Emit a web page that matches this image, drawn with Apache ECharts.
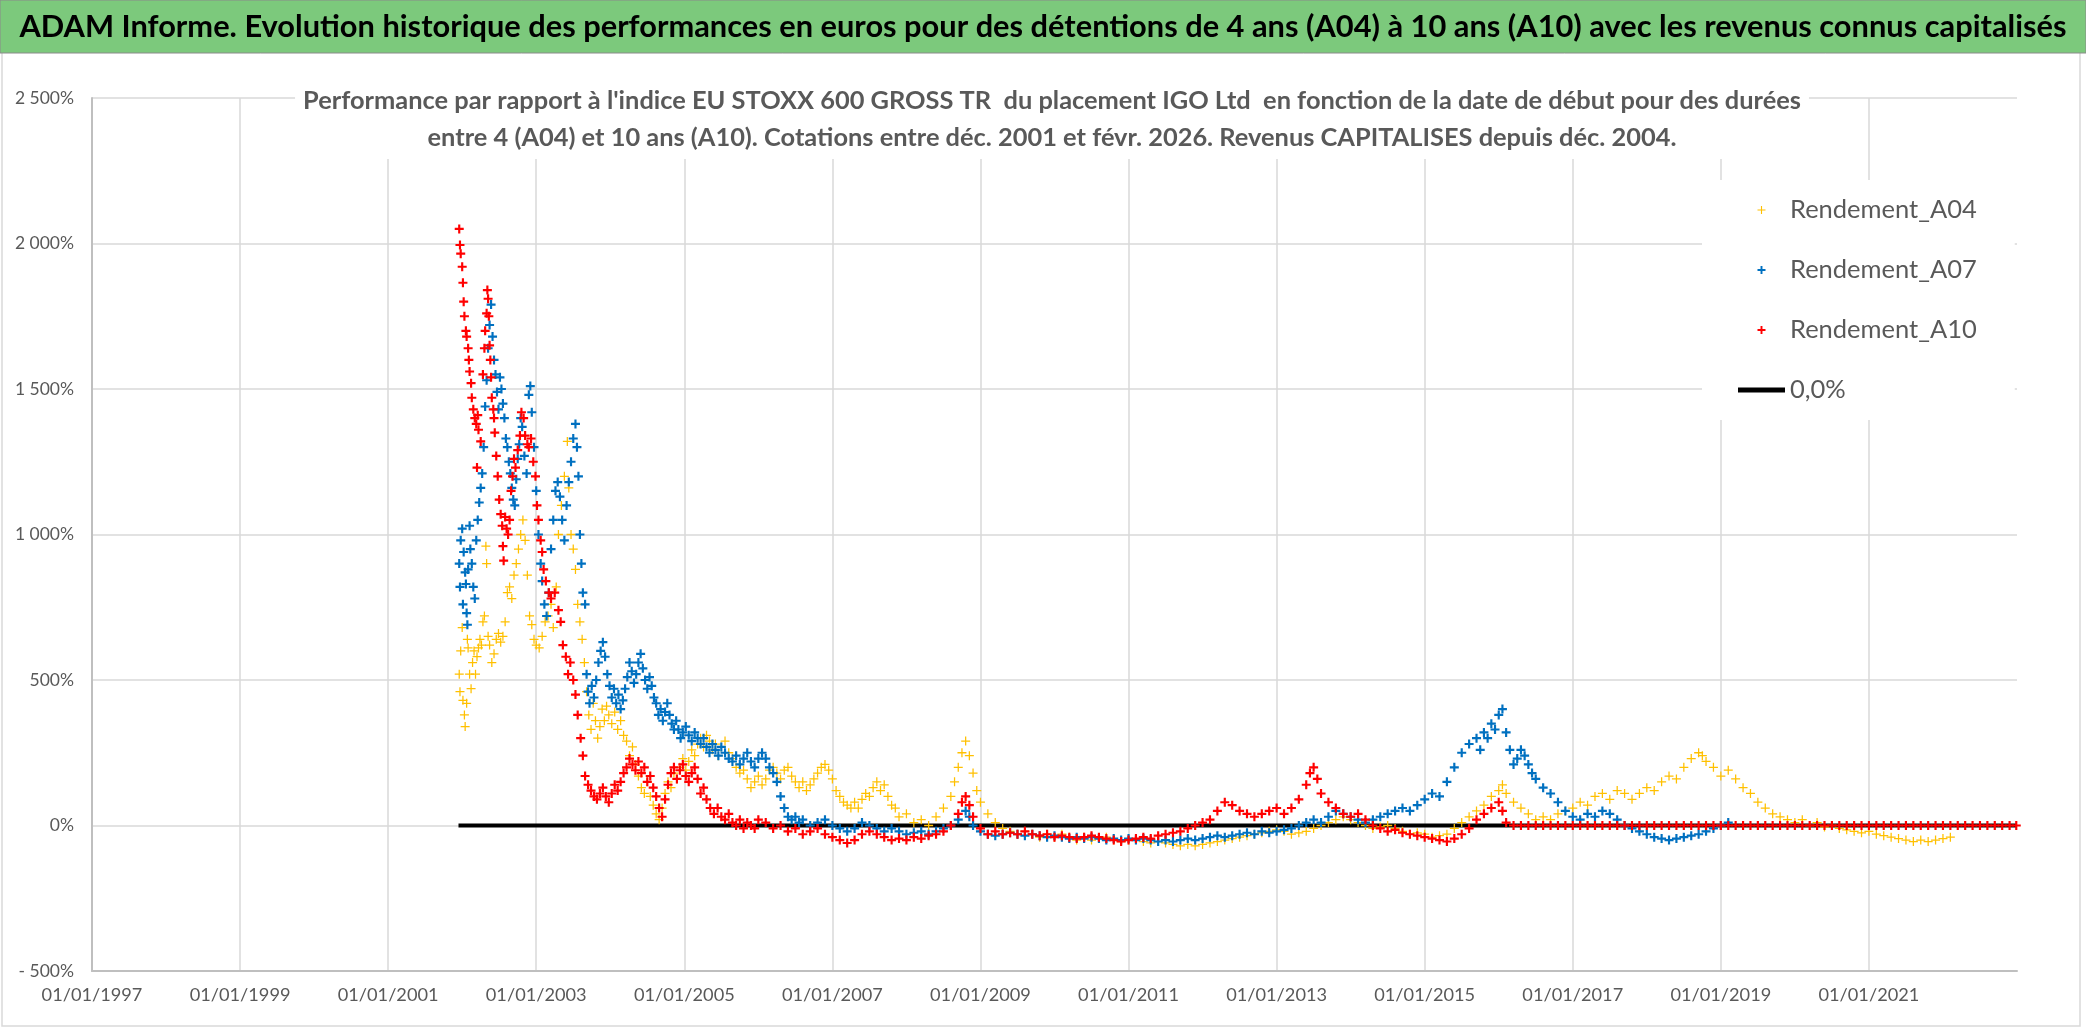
<!DOCTYPE html>
<html><head><meta charset="utf-8">
<script src="https://cdn.jsdelivr.net/npm/echarts@6/dist/echarts.min.js"></script>
<style>html,body{margin:0;padding:0;background:#fff;overflow:hidden}#c{width:2086px;height:1031px}</style>
</head><body><div id="c"></div>
<script>
// ---- DATA (x = date as decimal year, y = performance in %) ----
const A04 = [
[2001.96,520],[2001.97,460],[2001.98,600],[2002.00,680],[2002.01,430],[2002.03,380],[2002.04,340],[2002.06,420],[2002.07,640],[2002.08,610],
[2002.10,520],[2002.12,470],[2002.14,560],[2002.16,600],[2002.18,520],[2002.20,580],[2002.22,610],[2002.24,640],[2002.26,620],[2002.28,700],
[2002.30,720],[2002.32,960],[2002.33,900],[2002.35,650],[2002.37,620],[2002.40,560],[2002.43,590],[2002.46,640],[2002.49,660],[2002.52,630],
[2002.55,650],[2002.58,700],[2002.61,800],[2002.64,820],[2002.67,780],[2002.70,860],[2002.73,900],[2002.76,950],[2002.79,1000],[2002.82,1050],
[2002.85,980],[2002.88,860],[2002.91,720],[2002.94,690],[2002.97,640],[2003.00,620],[2003.04,610],[2003.08,650],[2003.12,700],[2003.16,720],
[2003.20,760],[2003.23,680],[2003.27,820],[2003.30,1000],[2003.34,1100],[2003.38,1200],[2003.42,1320],[2003.44,1160],[2003.47,1000],[2003.50,950],
[2003.53,880],[2003.56,760],[2003.59,700],[2003.62,640],[2003.65,560],[2003.68,460],[2003.71,380],[2003.74,330],[2003.77,420],[2003.80,360],
[2003.83,300],[2003.86,340],[2003.89,400],[2003.92,360],[2003.95,410],[2003.98,380],[2004.02,350],[2004.06,390],[2004.10,330],[2004.14,360],
[2004.18,310],[2004.22,290],[2004.26,240],[2004.30,270],[2004.34,210],[2004.38,170],[2004.42,130],[2004.46,110],[2004.50,150],[2004.54,100],
[2004.58,70],[2004.62,40],[2004.66,20],[2004.70,60],[2004.74,110],[2004.78,150],[2004.82,130],[2004.86,180],[2004.90,160],[2004.94,200],
[2004.98,230],[2005.02,190],[2005.06,220],[2005.10,260],[2005.14,240],[2005.18,280],[2005.22,300],[2005.26,270],[2005.30,310],[2005.34,290],
[2005.38,260],[2005.42,280],[2005.46,240],[2005.50,270],[2005.55,290],[2005.60,250],[2005.65,230],[2005.70,200],[2005.75,180],[2005.80,190],
[2005.85,160],[2005.90,130],[2005.95,150],[2006.00,170],[2006.05,140],[2006.10,160],[2006.15,190],[2006.20,200],[2006.25,180],[2006.30,160],
[2006.35,190],[2006.40,200],[2006.45,170],[2006.50,150],[2006.55,130],[2006.60,150],[2006.65,120],[2006.70,140],[2006.75,160],[2006.80,180],
[2006.85,200],[2006.90,210],[2006.95,190],[2007.00,160],[2007.05,120],[2007.10,100],[2007.15,80],[2007.20,70],[2007.25,60],[2007.30,80],
[2007.35,60],[2007.40,90],[2007.45,110],[2007.50,100],[2007.55,130],[2007.60,150],[2007.65,120],[2007.70,140],[2007.75,100],[2007.80,70],
[2007.85,60],[2007.90,30],[2008.00,40],[2008.10,10],[2008.20,20],[2008.30,0],[2008.40,30],[2008.50,60],[2008.60,100],[2008.65,150],
[2008.70,200],[2008.75,250],[2008.80,290],[2008.85,240],[2008.90,180],[2008.95,120],[2009.00,80],[2009.10,40],[2009.20,10],[2009.30,-10],
[2009.40,-20],[2009.50,-30],[2009.60,-20],[2009.70,-30],[2009.80,-40],[2009.90,-30],[2010.00,-40],[2010.10,-30],[2010.20,-40],[2010.30,-50],
[2010.40,-40],[2010.50,-50],[2010.60,-45],[2010.70,-40],[2010.80,-50],[2010.90,-55],[2011.00,-50],[2011.10,-45],[2011.20,-55],[2011.30,-60],
[2011.40,-55],[2011.50,-60],[2011.60,-65],[2011.70,-70],[2011.80,-65],[2011.90,-70],[2012.00,-65],[2012.10,-60],[2012.20,-55],[2012.30,-50],
[2012.40,-45],[2012.50,-40],[2012.60,-35],[2012.70,-30],[2012.80,-25],[2012.90,-20],[2013.00,-15],[2013.10,-20],[2013.20,-30],[2013.30,-25],
[2013.40,-20],[2013.50,-10],[2013.60,0],[2013.70,10],[2013.80,20],[2013.90,30],[2014.00,20],[2014.10,10],[2014.20,0],[2014.30,-10],
[2014.40,-5],[2014.50,0],[2014.60,-10],[2014.70,-20],[2014.80,-30],[2014.90,-25],[2015.00,-30],[2015.10,-40],[2015.20,-35],[2015.30,-30],
[2015.40,-10],[2015.50,10],[2015.60,30],[2015.70,50],[2015.80,70],[2015.90,100],[2016.00,120],[2016.05,140],[2016.10,110],[2016.20,80],
[2016.30,60],[2016.40,40],[2016.50,20],[2016.60,30],[2016.70,20],[2016.80,40],[2016.90,50],[2017.00,60],[2017.10,80],[2017.20,70],
[2017.30,100],[2017.40,110],[2017.50,90],[2017.60,120],[2017.70,110],[2017.80,90],[2017.90,110],[2018.00,130],[2018.10,120],[2018.20,150],
[2018.30,170],[2018.40,160],[2018.50,200],[2018.60,230],[2018.70,250],[2018.75,240],[2018.80,220],[2018.90,200],[2019.00,170],[2019.10,190],
[2019.20,160],[2019.30,130],[2019.40,110],[2019.50,80],[2019.60,60],[2019.70,40],[2019.80,30],[2019.90,20],[2020.00,10],[2020.10,20],
[2020.20,0],[2020.30,10],[2020.40,-5],[2020.50,0],[2020.60,-10],[2020.70,-15],[2020.80,-20],[2020.90,-25],[2021.00,-20],[2021.10,-30],
[2021.20,-35],[2021.30,-40],[2021.40,-45],[2021.50,-50],[2021.60,-55],[2021.70,-50],[2021.80,-55],[2021.90,-50],[2022.00,-45],[2022.10,-40]
];
const A07 = [
[2001.96,900],[2001.97,820],[2001.98,980],[2002.00,1020],[2002.01,760],[2002.02,940],[2002.04,870],[2002.05,830],[2002.06,730],[2002.07,690],
[2002.08,880],[2002.10,1030],[2002.11,950],[2002.13,900],[2002.15,820],[2002.17,780],[2002.19,980],[2002.21,1050],[2002.23,1110],[2002.25,1160],
[2002.27,1210],[2002.29,1300],[2002.31,1440],[2002.33,1530],[2002.35,1640],[2002.37,1720],[2002.39,1790],[2002.41,1680],[2002.43,1600],[2002.45,1550],
[2002.47,1490],[2002.49,1430],[2002.51,1540],[2002.53,1500],[2002.55,1450],[2002.57,1400],[2002.59,1330],[2002.61,1300],[2002.63,1250],[2002.65,1210],
[2002.67,1160],[2002.69,1120],[2002.71,1100],[2002.73,1190],[2002.75,1260],[2002.77,1310],[2002.79,1400],[2002.81,1370],[2002.84,1270],[2002.87,1210],
[2002.90,1480],[2002.92,1510],[2002.94,1420],[2002.97,1300],[2003.00,1150],[2003.03,1000],[2003.06,900],[2003.08,840],[2003.11,760],[2003.14,720],
[2003.17,800],[2003.20,950],[2003.23,1050],[2003.26,1150],[2003.29,1180],[2003.32,1130],[2003.35,1050],[2003.38,980],[2003.41,1100],[2003.44,1180],
[2003.47,1250],[2003.50,1330],[2003.53,1380],[2003.55,1300],[2003.57,1200],[2003.59,1000],[2003.61,900],[2003.63,800],[2003.66,760],[2003.68,520],
[2003.70,460],[2003.72,420],[2003.75,480],[2003.78,440],[2003.81,500],[2003.84,560],[2003.87,600],[2003.90,630],[2003.93,580],[2003.96,520],
[2003.99,480],[2004.02,440],[2004.05,470],[2004.08,420],[2004.11,450],[2004.14,400],[2004.17,430],[2004.20,470],[2004.23,510],[2004.26,560],
[2004.29,530],[2004.32,490],[2004.35,520],[2004.38,560],[2004.41,590],[2004.44,540],[2004.47,500],[2004.50,470],[2004.53,510],[2004.56,480],
[2004.59,440],[2004.62,420],[2004.65,380],[2004.68,400],[2004.71,360],[2004.74,390],[2004.77,420],[2004.80,380],[2004.83,350],[2004.86,330],
[2004.89,360],[2004.92,330],[2004.95,300],[2004.98,320],[2005.02,340],[2005.06,310],[2005.10,290],[2005.14,320],[2005.18,300],[2005.22,280],
[2005.26,300],[2005.30,270],[2005.34,250],[2005.38,280],[2005.42,260],[2005.46,240],[2005.50,270],[2005.55,250],[2005.60,230],[2005.65,220],
[2005.70,240],[2005.75,210],[2005.80,230],[2005.85,250],[2005.90,220],[2005.95,200],[2006.00,230],[2006.05,250],[2006.10,230],[2006.15,200],
[2006.20,180],[2006.25,150],[2006.30,100],[2006.35,60],[2006.40,30],[2006.45,20],[2006.50,30],[2006.55,10],[2006.60,20],[2006.70,0],
[2006.80,10],[2006.90,20],[2007.00,0],[2007.10,-10],[2007.20,-20],[2007.30,-10],[2007.40,10],[2007.50,0],[2007.60,-10],[2007.70,-20],
[2007.80,-10],[2007.90,-20],[2008.00,-30],[2008.10,-25],[2008.20,-20],[2008.30,-30],[2008.40,-20],[2008.50,-10],[2008.60,0],[2008.70,20],
[2008.80,50],[2008.85,30],[2008.90,0],[2009.00,-20],[2009.10,-30],[2009.20,-35],[2009.30,-30],[2009.40,-25],[2009.50,-30],[2009.60,-35],
[2009.70,-30],[2009.80,-35],[2009.90,-40],[2010.00,-35],[2010.10,-40],[2010.20,-45],[2010.30,-40],[2010.40,-45],[2010.50,-40],[2010.60,-45],
[2010.70,-50],[2010.80,-45],[2010.90,-50],[2011.00,-45],[2011.10,-50],[2011.20,-45],[2011.30,-50],[2011.40,-55],[2011.50,-50],[2011.60,-55],
[2011.70,-50],[2011.80,-45],[2011.90,-50],[2012.00,-45],[2012.10,-40],[2012.20,-35],[2012.30,-40],[2012.40,-35],[2012.50,-30],[2012.60,-25],
[2012.70,-30],[2012.80,-20],[2012.90,-25],[2013.00,-20],[2013.10,-15],[2013.20,-10],[2013.30,0],[2013.40,10],[2013.50,20],[2013.60,10],
[2013.70,30],[2013.80,50],[2013.90,40],[2014.00,30],[2014.10,20],[2014.20,10],[2014.30,20],[2014.40,30],[2014.50,40],[2014.60,50],
[2014.70,60],[2014.80,50],[2014.90,70],[2015.00,90],[2015.10,110],[2015.20,100],[2015.30,150],[2015.40,200],[2015.50,250],[2015.60,280],
[2015.70,300],[2015.75,260],[2015.80,320],[2015.85,300],[2015.90,350],[2015.95,330],[2016.00,380],[2016.05,400],[2016.10,320],[2016.15,260],
[2016.20,210],[2016.25,230],[2016.30,260],[2016.35,240],[2016.40,210],[2016.45,180],[2016.50,160],[2016.60,130],[2016.70,110],[2016.80,80],
[2016.90,50],[2017.00,30],[2017.10,20],[2017.20,40],[2017.30,30],[2017.40,50],[2017.50,40],[2017.60,20],[2017.70,0],[2017.80,-10],
[2017.90,-20],[2018.00,-30],[2018.10,-40],[2018.20,-45],[2018.30,-50],[2018.40,-45],[2018.50,-40],[2018.60,-35],[2018.70,-30],[2018.80,-20],
[2018.90,-10],[2019.00,0],[2019.10,10]
];
const A10 = [
[2001.96,2050],[2001.97,1995],[2001.98,1965],[2002.00,1920],[2002.01,1865],[2002.02,1800],[2002.03,1750],[2002.05,1700],[2002.06,1680],[2002.08,1640],
[2002.09,1600],[2002.10,1560],[2002.12,1520],[2002.13,1470],[2002.15,1430],[2002.17,1400],[2002.19,1380],[2002.21,1410],[2002.22,1360],[2002.20,1230],
[2002.25,1320],[2002.28,1550],[2002.30,1640],[2002.31,1700],[2002.33,1760],[2002.34,1840],[2002.35,1810],[2002.36,1750],[2002.37,1650],[2002.38,1600],
[2002.39,1540],[2002.40,1470],[2002.42,1430],[2002.43,1400],[2002.44,1350],[2002.46,1270],[2002.48,1200],[2002.50,1120],[2002.52,1070],[2002.54,1030],
[2002.55,960],[2002.56,910],[2002.58,1060],[2002.60,1020],[2002.62,1000],[2002.64,1050],[2002.66,1150],[2002.68,1200],[2002.70,1260],[2002.72,1230],
[2002.75,1290],[2002.78,1340],[2002.80,1420],[2002.83,1400],[2002.85,1340],[2002.88,1310],[2002.90,1300],[2002.93,1330],[2002.96,1250],[2002.99,1200],
[2003.01,1100],[2003.03,1050],[2003.06,980],[2003.08,940],[2003.10,880],[2003.13,840],[2003.17,800],[2003.20,780],[2003.25,800],[2003.30,740],
[2003.33,700],[2003.36,620],[2003.40,580],[2003.43,520],[2003.46,560],[2003.50,500],[2003.53,450],[2003.56,380],[2003.60,300],[2003.63,240],
[2003.66,170],[2003.70,140],[2003.74,120],[2003.78,100],[2003.82,90],[2003.86,110],[2003.90,130],[2003.94,100],[2003.98,80],[2004.02,110],
[2004.06,140],[2004.10,120],[2004.14,150],[2004.18,180],[2004.22,200],[2004.26,230],[2004.30,210],[2004.34,190],[2004.38,220],[2004.42,180],
[2004.46,200],[2004.50,150],[2004.54,170],[2004.58,130],[2004.62,100],[2004.66,60],[2004.70,30],[2004.74,90],[2004.78,140],[2004.82,180],
[2004.86,200],[2004.90,160],[2004.94,190],[2004.98,210],[2005.02,170],[2005.06,150],[2005.10,180],[2005.14,200],[2005.18,160],[2005.22,110],
[2005.26,130],[2005.30,90],[2005.35,60],[2005.40,40],[2005.45,60],[2005.50,30],[2005.55,20],[2005.60,40],[2005.65,10],[2005.70,0],
[2005.75,20],[2005.80,-10],[2005.85,10],[2005.90,0],[2005.95,-10],[2006.00,20],[2006.10,10],[2006.20,-10],[2006.30,0],[2006.40,-20],
[2006.50,-10],[2006.60,-30],[2006.70,-20],[2006.80,-10],[2006.90,-30],[2007.00,-40],[2007.10,-50],[2007.20,-60],[2007.30,-50],[2007.40,-30],
[2007.50,-20],[2007.60,-30],[2007.70,-40],[2007.80,-50],[2007.90,-45],[2008.00,-50],[2008.10,-40],[2008.20,-45],[2008.30,-35],[2008.40,-30],
[2008.50,-20],[2008.60,0],[2008.70,40],[2008.75,80],[2008.80,100],[2008.85,70],[2008.90,30],[2009.00,-10],[2009.10,-30],[2009.20,-20],
[2009.30,-30],[2009.40,-25],[2009.50,-30],[2009.60,-20],[2009.70,-30],[2009.80,-35],[2009.90,-30],[2010.00,-40],[2010.10,-35],[2010.20,-40],
[2010.30,-45],[2010.40,-40],[2010.50,-35],[2010.60,-40],[2010.70,-45],[2010.80,-50],[2010.90,-55],[2011.00,-50],[2011.10,-45],[2011.20,-40],
[2011.30,-45],[2011.40,-35],[2011.50,-30],[2011.60,-25],[2011.70,-20],[2011.80,-10],[2011.90,0],[2012.00,10],[2012.10,20],[2012.20,50],
[2012.30,80],[2012.40,70],[2012.50,50],[2012.60,40],[2012.70,30],[2012.80,40],[2012.90,50],[2013.00,60],[2013.10,40],[2013.20,60],
[2013.30,90],[2013.40,140],[2013.45,180],[2013.50,200],[2013.55,160],[2013.60,110],[2013.70,80],[2013.80,60],[2013.90,40],[2014.00,30],
[2014.10,40],[2014.20,20],[2014.30,0],[2014.40,-10],[2014.50,-20],[2014.60,-15],[2014.70,-25],[2014.80,-30],[2014.90,-35],[2015.00,-40],
[2015.10,-45],[2015.20,-50],[2015.30,-55],[2015.40,-45],[2015.50,-30],[2015.60,-10],[2015.70,20],[2015.80,40],[2015.90,60],[2016.00,80],
[2016.05,50],[2016.10,10],[2016.20,0],[2016.30,0],[2016.40,0],[2016.50,0],[2016.60,0],[2016.70,0],[2016.80,0],[2016.90,0],
[2017.00,0],[2017.10,0],[2017.20,0],[2017.30,0],[2017.40,0],[2017.50,0],[2017.60,0],[2017.70,0],[2017.80,0],[2017.90,0],
[2018.00,0],[2018.10,0],[2018.20,0],[2018.30,0],[2018.40,0],[2018.50,0],[2018.60,0],[2018.70,0],[2018.80,0],[2018.90,0],
[2019.00,0],[2019.10,0],[2019.20,0],[2019.30,0],[2019.40,0],[2019.50,0],[2019.60,0],[2019.70,0],[2019.80,0],[2019.90,0],
[2020.00,0],[2020.10,0],[2020.20,0],[2020.30,0],[2020.40,0],[2020.50,0],[2020.60,0],[2020.70,0],[2020.80,0],[2020.90,0],
[2021.00,0],[2021.10,0],[2021.20,0],[2021.30,0],[2021.40,0],[2021.50,0],[2021.60,0],[2021.70,0],[2021.80,0],[2021.90,0],
[2022.00,0],[2022.10,0],[2022.20,0],[2022.30,0],[2022.40,0],[2022.50,0],[2022.60,0],[2022.70,0],[2022.80,0],[2022.90,0],[2022.99,0]
];
const ZERO_LINE = [[2001.95,0],[2023.0,0]];
const SERIES_NAMES = ['Rendement_A04','Rendement_A07','Rendement_A10','0,0%'];
const TITLE = "ADAM Informe. Evolution historique des performances en euros pour des détentions de 4 ans (A04) à 10 ans (A10) avec les revenus connus capitalisés";
const SUBTITLE = ["Performance par rapport à l'indice EU STOXX 600 GROSS TR  du placement IGO Ltd  en fonction de la date de début pour des durées",
                  "entre 4 (A04) et 10 ans (A10). Cotations entre déc. 2001 et févr. 2026. Revenus CAPITALISES depuis déc. 2004."];

// ---- CHART ----
const FONT = 'Lato, "Liberation Sans", sans-serif';
const mctx = document.createElement('canvas').getContext('2d');
function fitSize(text, weight, target){
  mctx.font = weight + ' 100px ' + FONT;
  return Math.round(1000 * target / mctx.measureText(text).width) / 10;
}
const FS_TITLE = fitSize(TITLE, 'bold', 2050);
const FS_SUB = fitSize(SUBTITLE[0], 'bold', 1497);
const FS_LEG = fitSize('Rendement_A04', 'normal', 187);
const FS_X = fitSize('01/01/1997', 'normal', 101);
const FS_Y = fitSize('2 500%', 'normal', 59);

const PLUS = 'path://M3.8,0H6.2V3.8H10V6.2H6.2V10H3.8V6.2H0V3.8H3.8Z';
const PLUS_THIN = 'path://M4.3,0H5.7V4.3H10V5.7H5.7V10H4.3V5.7H0V4.3H4.3Z';
const LINE_ICON = 'path://M0,0H47V5H0Z';
const chart = echarts.init(document.getElementById('c'), null, {renderer:'canvas'});
function yFmt(v){
  if (v === 0) return '0%';
  const a = Math.abs(v);
  const s = a >= 1000 ? Math.floor(a/1000) + ' ' + String(a%1000).padStart(3,'0') : String(a);
  return (v < 0 ? '- ' : '') + s + '%';
}
chart.setOption({
  animation:false,
  backgroundColor:'#ffffff',
  grid:{left:92, right:69, top:98, bottom:60, containLabel:false},
  xAxis:{
    type:'value', min:1997, max:2023, interval:2,
    axisLine:{show:true, onZero:false, lineStyle:{color:'#bfbfbf', width:2}},
    axisTick:{show:false},
    splitLine:{show:true, showMaxLine:false, lineStyle:{color:'#d9d9d9', width:1.5}},
    axisLabel:{color:'#595959', fontFamily:FONT, fontSize:FS_X, margin:15,
      formatter:v => v >= 2023 ? '' : '01/01/' + v}
  },
  yAxis:{
    type:'value', min:-500, max:2500, interval:500,
    axisLine:{show:true, lineStyle:{color:'#bfbfbf', width:2}},
    axisTick:{show:false},
    splitLine:{show:true, lineStyle:{color:'#d9d9d9', width:1.5}},
    axisLabel:{color:'#595959', fontFamily:FONT, fontSize:FS_Y, margin:18, formatter:yFmt}
  },
  legend:{
    orient:'vertical', left:1702, top:180,
    backgroundColor:'#ffffff', padding:[15,38,15,36],
    itemWidth:47, itemHeight:8, itemGap:30,
    textStyle:{color:'#595959', fontFamily:FONT, fontSize:FS_LEG, lineHeight:30},
    data:[
      {name:SERIES_NAMES[0], icon:PLUS_THIN},
      {name:SERIES_NAMES[1], icon:PLUS},
      {name:SERIES_NAMES[2], icon:PLUS},
      {name:SERIES_NAMES[3], icon:LINE_ICON}
    ]
  },
  graphic:[
    {type:'rect', z:-10, shape:{x:2, y:2, width:2078, height:1024}, style:{fill:'#ffffff', stroke:'#d9d9d9', lineWidth:1.5}, silent:true},
    {type:'rect', z:1, shape:{x:0, y:0, width:2086, height:53}, style:{fill:'#7cc97c', stroke:'#8a8a8a', lineWidth:1}, silent:true},
    {type:'text', z:2, x:1043, y:27, style:{text:TITLE, fill:'#000000', fontFamily:FONT, fontSize:FS_TITLE, fontWeight:'bold', align:'center', verticalAlign:'middle'}, silent:true},
    {type:'text', z:50, x:1052, y:119, style:{text:SUBTITLE.join('\n'), fill:'#595959', fontFamily:FONT, fontSize:FS_SUB, fontWeight:'bold', lineHeight:37, align:'center', verticalAlign:'middle', backgroundColor:'#ffffff', padding:[3,8]}, silent:true}
  ],
  series:[
    {name:SERIES_NAMES[3], type:'line', data:ZERO_LINE, symbol:'none', showSymbol:false, lineStyle:{color:'#000000', width:4}, itemStyle:{color:'#000000'}, z:1},
    {name:SERIES_NAMES[0], type:'scatter', data:A04, symbol:PLUS_THIN, symbolSize:9, itemStyle:{color:'#ffc000', opacity:1}, z:2},
    {name:SERIES_NAMES[1], type:'scatter', data:A07, symbol:PLUS, symbolSize:9, itemStyle:{color:'#0070c0', opacity:1}, z:3},
    {name:SERIES_NAMES[2], type:'scatter', data:A10, symbol:PLUS, symbolSize:9, itemStyle:{color:'#ff0000', opacity:1}, z:4}
  ]
});
</script>
</body></html>
